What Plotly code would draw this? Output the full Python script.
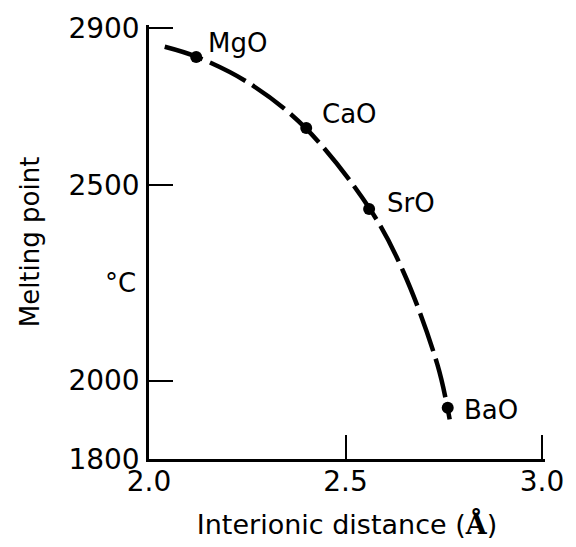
import plotly.graph_objects as go

# ---- data ----
compounds = ["MgO", "CaO", "SrO", "BaO"]
distance = [2.12, 2.40, 2.56, 2.76]          # interionic distance (Å)
melting = [2826, 2645, 2438, 1931]           # melting point (°C)

curve_x = [2.040, 2.122, 2.258, 2.398, 2.562, 2.648, 2.734, 2.765]
curve_y = [2852, 2826, 2757, 2645, 2438, 2276, 2040, 1901]

x_ticks = [2.0, 2.5, 3.0]
x_ticklabels = ["2.0", "2.5", "3.0"]
y_ticks = [1800, 2000, 2500, 2900]
y_ticklabels = ["1800", "2000", "2500", "2900"]

# ---- style ----
FONT = "DejaVu Sans"
label_shift = [(10, 14), (14, 14), (16, 6), (14, -2)]  # (xshift, yshift) px

fig = go.Figure()
fig.add_trace(go.Scatter(
    x=curve_x, y=curve_y, mode="lines",
    line=dict(color="black", width=4.5, shape="spline", smoothing=1.0,
              dash="40px,8px"),
    hoverinfo="skip", showlegend=False))
fig.add_trace(go.Scatter(
    x=distance, y=melting, mode="markers",
    marker=dict(color="black", size=12),
    showlegend=False))

for name, xv, yv, (dx, dy) in zip(compounds, distance, melting, label_shift):
    fig.add_annotation(x=xv, y=yv, xref="x", yref="y", text=name,
                       showarrow=False, xanchor="left", yanchor="middle",
                       xshift=dx, yshift=dy,
                       font=dict(family=FONT, size=26, color="black"))

axis_common = dict(
    showline=True, linecolor="black", linewidth=2.5,
    ticks="inside", ticklen=24, tickwidth=2, tickcolor="black",
    showgrid=False, zeroline=False,
    tickfont=dict(family=FONT, size=28, color="black"),
)

fig.update_layout(
    width=576, height=547, autosize=False,
    margin=dict(l=149, r=21, t=22, b=87),
    paper_bgcolor="white", plot_bgcolor="white",
    xaxis=dict(range=[2.0, 3.0075], tickmode="array", tickvals=x_ticks,
               ticktext=x_ticklabels, ticklabelstandoff=-4,
               title=dict(text="Interionic distance (<span style=\"font-family:'DejaVu Serif';font-weight:bold\">Å</span>)",
                          font=dict(family=FONT, size=27, color="black"),
                          standoff=18),
               **axis_common),
    yaxis=dict(range=[1800, 2907.6], tickmode="array", tickvals=y_ticks,
               ticktext=y_ticklabels, ticklabelstandoff=1,
               title=dict(text="Melting point",
                          font=dict(family=FONT, size=26, color="black"),
                          standoff=22),
               **axis_common),
)

# °C label, placed in pixel terms relative to the plot area
fig.add_annotation(x=(120 - 149) / (576 - 149 - 21),
                   y=1 - (282 - 22) / (547 - 22 - 87),
                   xref="paper", yref="paper", text="°C", showarrow=False,
                   xanchor="center", yanchor="middle",
                   font=dict(family=FONT, size=26, color="black"))

fig.write_html("out.html")
